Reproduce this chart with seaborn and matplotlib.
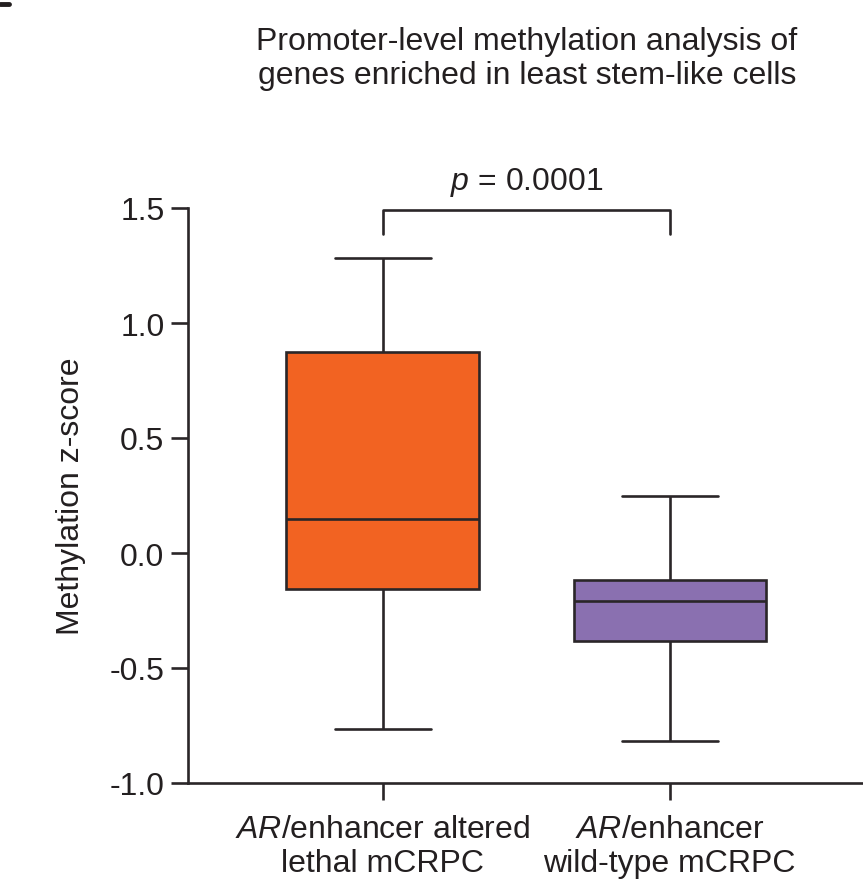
import numpy as np
import pandas as pd
import matplotlib
matplotlib.use("Agg")
import matplotlib.pyplot as plt
import seaborn as sns
from matplotlib.lines import Line2D

# Data: five-number summaries (min, Q1, median, Q3, max)
altered = [-0.765, -0.157, 0.148, 0.874, 1.283]
wildtype = [-0.817, -0.383, -0.209, -0.117, 0.248]
groups = ["$\\mathit{AR}$/enhancer altered\nlethal mCRPC",
          "$\\mathit{AR}$/enhancer\nwild-type mCRPC"]
colors = ["#F26322", "#8A70B0"]
yticks = [-1.0, -0.5, 0.0, 0.5, 1.0, 1.5]
pval_text = "$\\mathit{p}$ = 0.0001"
title = "Promoter-level methylation analysis of\ngenes enriched in least stem-like cells"

df = pd.DataFrame({
    "group": [groups[0]] * len(altered) + [groups[1]] * len(wildtype),
    "value": altered + wildtype,
})

sns.set_style("ticks")
plt.rcParams["font.family"] = ["Liberation Sans", "DejaVu Sans"]
plt.rcParams["mathtext.fontset"] = "custom"
plt.rcParams["mathtext.rm"] = "Liberation Sans"
plt.rcParams["mathtext.it"] = "Liberation Sans:italic"

ink = "#2a2628"
txt = "#231f20"
fs = 23
fig = plt.figure(figsize=(8.63, 8.87), dpi=100)
ax = fig.add_axes([188 / 863, 1 - 784 / 887, (862 - 188) / 863, (784 - 209) / 887])

sns.boxplot(data=df, x="group", y="value", hue="group", palette=colors,
            whis=(0, 100), width=0.67, linewidth=1.9, linecolor=ink,
            legend=False, ax=ax, saturation=1)

ax.set_ylim(-1.0, 1.5)
ax.set_xlim(-0.678, 1.67)
ax.set_yticks(yticks)
ax.set_yticklabels([f"{t:.1f}" for t in yticks])
ax.set_xlabel("")
ax.set_ylabel("Methylation z-score", fontsize=fs, labelpad=17, color=txt)
ax.tick_params(axis="both", length=12, width=1.9, color=ink, labelsize=fs,
               labelcolor=txt, pad=5)
ax.tick_params(axis="x", pad=10)
for lab in ax.get_xticklabels():
    lab.set_linespacing(1.2)
for s in ["top", "right"]:
    ax.spines[s].set_visible(False)
for s in ["left", "bottom"]:
    ax.spines[s].set_linewidth(1.9)
    ax.spines[s].set_color(ink)

# significance bracket
y0, y1 = 1.385, 1.49
ax.plot([0, 0, 1, 1], [y0, y1, y1, y0], color=ink, lw=1.9, clip_on=False)
ax.text(0.5, 1.545, pval_text, ha="center", va="bottom", fontsize=fs, color=txt)

fig.text(527 / 863, 1 - 59 / 887, title, ha="center", va="center", fontsize=fs,
         color=txt, linespacing=1.15)

# panel mark remnant at top-left
fig.add_artist(Line2D([0, 9 / 863], [1 - 5 / 887, 1 - 5 / 887], color=txt,
                      lw=3.5, transform=fig.transFigure))

fig.savefig("out.png", dpi=100)
